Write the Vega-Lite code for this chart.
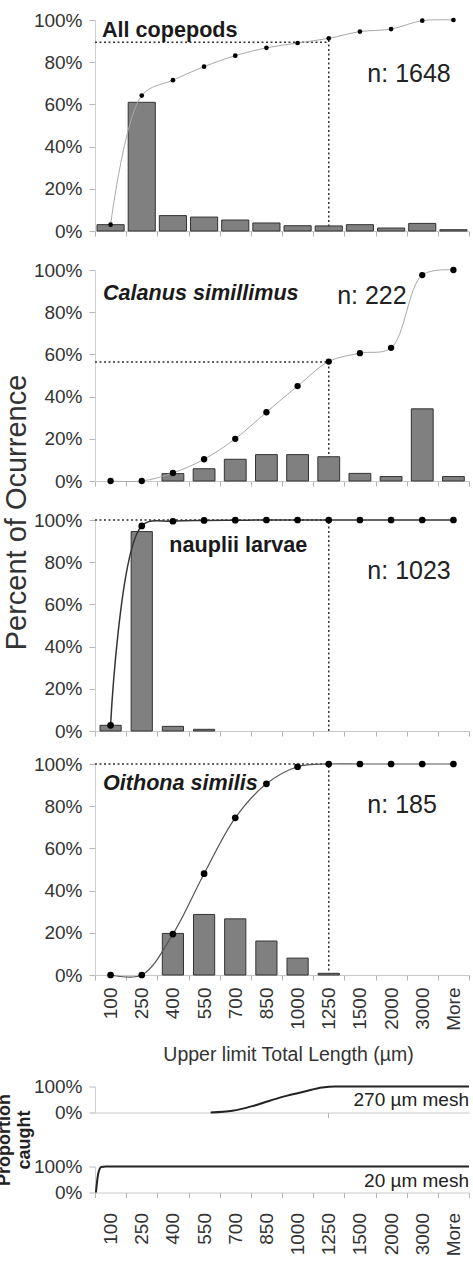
{
  "$schema": "https://vega.github.io/schema/vega-lite/v6.json",
  "background": "white",
  "padding": {"left": -5, "top": 11, "right": 0, "bottom": 0},
  "datasets": {
    "main": [
      {"panel": "all", "size": "100", "pct": 3.0, "cum": 3.0},
      {"panel": "all", "size": "250", "pct": 61.0, "cum": 64.2},
      {"panel": "all", "size": "400", "pct": 7.3, "cum": 71.5},
      {"panel": "all", "size": "550", "pct": 6.6, "cum": 77.9},
      {"panel": "all", "size": "700", "pct": 5.2, "cum": 83.1},
      {"panel": "all", "size": "850", "pct": 3.8, "cum": 86.8},
      {"panel": "all", "size": "1000", "pct": 2.5, "cum": 89.1},
      {"panel": "all", "size": "1250", "pct": 2.4, "cum": 91.3},
      {"panel": "all", "size": "1500", "pct": 3.0, "cum": 94.5},
      {"panel": "all", "size": "2000", "pct": 1.4, "cum": 95.7},
      {"panel": "all", "size": "3000", "pct": 3.6, "cum": 99.7},
      {"panel": "all", "size": "More", "pct": 0.6, "cum": 100},
      {"panel": "cal", "size": "100", "pct": 0, "cum": 0},
      {"panel": "cal", "size": "250", "pct": 0, "cum": 0},
      {"panel": "cal", "size": "400", "pct": 3.5, "cum": 3.8},
      {"panel": "cal", "size": "550", "pct": 5.8, "cum": 10.3},
      {"panel": "cal", "size": "700", "pct": 10.3, "cum": 20.0},
      {"panel": "cal", "size": "850", "pct": 12.5, "cum": 32.6},
      {"panel": "cal", "size": "1000", "pct": 12.5, "cum": 45.0},
      {"panel": "cal", "size": "1250", "pct": 11.5, "cum": 56.6},
      {"panel": "cal", "size": "1500", "pct": 3.6, "cum": 60.6},
      {"panel": "cal", "size": "2000", "pct": 2.1, "cum": 63.1},
      {"panel": "cal", "size": "3000", "pct": 34.2, "cum": 97.6},
      {"panel": "cal", "size": "More", "pct": 2.1, "cum": 100},
      {"panel": "nau", "size": "100", "pct": 2.7, "cum": 2.7},
      {"panel": "nau", "size": "250", "pct": 94.5, "cum": 97.2},
      {"panel": "nau", "size": "400", "pct": 2.2, "cum": 99.4},
      {"panel": "nau", "size": "550", "pct": 0.8, "cum": 99.8},
      {"panel": "nau", "size": "700", "pct": 0, "cum": 99.9},
      {"panel": "nau", "size": "850", "pct": 0, "cum": 100},
      {"panel": "nau", "size": "1000", "pct": 0, "cum": 100},
      {"panel": "nau", "size": "1250", "pct": 0, "cum": 100},
      {"panel": "nau", "size": "1500", "pct": 0, "cum": 100},
      {"panel": "nau", "size": "2000", "pct": 0, "cum": 100},
      {"panel": "nau", "size": "3000", "pct": 0, "cum": 100},
      {"panel": "nau", "size": "More", "pct": 0, "cum": 100},
      {"panel": "oit", "size": "100", "pct": 0, "cum": 0},
      {"panel": "oit", "size": "250", "pct": 0, "cum": 0},
      {"panel": "oit", "size": "400", "pct": 19.7, "cum": 19.4},
      {"panel": "oit", "size": "550", "pct": 28.7, "cum": 48.0},
      {"panel": "oit", "size": "700", "pct": 26.6, "cum": 74.5},
      {"panel": "oit", "size": "850", "pct": 16.1, "cum": 90.6},
      {"panel": "oit", "size": "1000", "pct": 8.0, "cum": 98.7},
      {"panel": "oit", "size": "1250", "pct": 0.8, "cum": 100},
      {"panel": "oit", "size": "1500", "pct": 0, "cum": 100},
      {"panel": "oit", "size": "2000", "pct": 0, "cum": 100},
      {"panel": "oit", "size": "3000", "pct": 0, "cum": 100},
      {"panel": "oit", "size": "More", "pct": 0, "cum": 100}
    ],
    "mesh": [
      {"mesh": "270", "position": 3.71, "caught": 0},
      {"mesh": "270", "position": 4.41, "caught": 6.5},
      {"mesh": "270", "position": 5.15, "caught": 28},
      {"mesh": "270", "position": 6.01, "caught": 60},
      {"mesh": "270", "position": 6.76, "caught": 82},
      {"mesh": "270", "position": 7.29, "caught": 96},
      {"mesh": "270", "position": 7.7, "caught": 100},
      {"mesh": "270", "position": 12, "caught": 100},
      {"mesh": "20", "position": 0.03, "caught": 0},
      {"mesh": "20", "position": 0.1, "caught": 70},
      {"mesh": "20", "position": 0.2, "caught": 98},
      {"mesh": "20", "position": 0.35, "caught": 100},
      {"mesh": "20", "position": 12, "caught": 100}
    ]
  },
  "resolve": {"scale": {"x": "independent", "y": "independent"}},
  "spacing": 14,
  "vconcat": [
    {
      "bounds": "flush",
      "spacing": 39,
      "resolve": {"scale": {"x": "independent", "y": "independent"}},
      "vconcat": [
        {
          "width": 374, "height": 211,
          "layer": [
            {"data": {"values": [{}]}, "mark": {"type": "rule", "strokeDash": [2, 2.5], "strokeWidth": 1.5, "color": "#333"},
             "encoding": {"x": {"datum": "100", "type": "nominal", "bandPosition": 0, "scale": {"domain": ["100","250","400","550","700","850","1000","1250","1500","2000","3000","More"], "paddingInner": 0, "paddingOuter": 0}}, "x2": {"datum": "1250", "bandPosition": 0.5}, "y": {"datum": 89.5, "type": "quantitative", "scale": {"domain": [0, 100], "nice": false}}}},
            {"data": {"values": [{}]}, "mark": {"type": "rule", "strokeDash": [2, 2.5], "strokeWidth": 1.5, "color": "#333"},
             "encoding": {"x": {"datum": "1250", "type": "nominal", "bandPosition": 0.5}, "y": {"datum": 0, "type": "quantitative"}, "y2": {"datum": 91.3}}},
            {"data": {"name": "main"}, "transform": [{"filter": "datum.panel === 'all'"}],
             "layer": [
               {"transform": [{"filter": "datum.pct > 0"}],
                "mark": {"type": "bar", "width": {"band": 0.87}, "fill": "#808080", "stroke": "#333", "strokeWidth": 1},
                "encoding": {
                  "x": {"field": "size", "type": "nominal", "sort": null, "scale": {"domain": ["100","250","400","550","700","850","1000","1250","1500","2000","3000","More"], "paddingInner": 0, "paddingOuter": 0},
                        "axis": {"title": null, "labels": false, "tickBand": "extent", "tickSize": 5, "domainColor": "#c8c8c8", "tickColor": "#b4b4b4"}},
                  "y": {"field": "pct", "type": "quantitative", "scale": {"domain": [0, 100], "nice": false},
                        "axis": {"title": null, "values": [0, 20, 40, 60, 80, 100], "labelExpr": "datum.value + '%'", "tickSize": 6, "labelPadding": 7, "domainColor": "#d0d0d0", "tickColor": "#b4b4b4", "labelOverlap": false}}
                }},
               {"mark": {"type": "line", "interpolate": "catmull-rom", "stroke": "#a8a8a8", "strokeWidth": 1},
                "encoding": {"x": {"field": "size", "type": "nominal", "sort": null}, "y": {"field": "cum", "type": "quantitative"}}},
               {"mark": {"type": "point", "filled": true, "color": "#000", "opacity": 1, "size": 22},
                "encoding": {"x": {"field": "size", "type": "nominal", "sort": null}, "y": {"field": "cum", "type": "quantitative"}}}
             ]},
            {"data": {"values": [{"t": "All copepods"}]}, "mark": {"type": "text", "align": "left", "baseline": "middle", "dx": 7, "fontSize": 21.6, "fontWeight": "bold", "font": "Liberation Sans", "color": "#1a1a1a"},
             "encoding": {"x": {"datum": "100", "type": "nominal", "bandPosition": 0}, "y": {"datum": 94.8, "type": "quantitative"}, "text": {"field": "t"}}},
            {"data": {"values": [{"t": "n: 1648"}]}, "mark": {"type": "text", "align": "left", "baseline": "middle", "dx": 23, "fontSize": 25, "font": "Liberation Sans", "color": "#222"},
             "encoding": {"x": {"datum": "1500", "type": "nominal", "bandPosition": 0}, "y": {"datum": 74.4, "type": "quantitative"}, "text": {"field": "t"}}}
          ]
        },
        {
          "width": 374, "height": 211,
          "layer": [
            {"data": {"values": [{}]}, "mark": {"type": "rule", "strokeDash": [2, 2.5], "strokeWidth": 1.5, "color": "#333"},
             "encoding": {"x": {"datum": "100", "type": "nominal", "bandPosition": 0, "scale": {"domain": ["100","250","400","550","700","850","1000","1250","1500","2000","3000","More"], "paddingInner": 0, "paddingOuter": 0}}, "x2": {"datum": "1250", "bandPosition": 0.5}, "y": {"datum": 56.4, "type": "quantitative", "scale": {"domain": [0, 100], "nice": false}}}},
            {"data": {"values": [{}]}, "mark": {"type": "rule", "strokeDash": [2, 2.5], "strokeWidth": 1.5, "color": "#333"},
             "encoding": {"x": {"datum": "1250", "type": "nominal", "bandPosition": 0.5}, "y": {"datum": 0, "type": "quantitative"}, "y2": {"datum": 56.6}}},
            {"data": {"name": "main"}, "transform": [{"filter": "datum.panel === 'cal'"}],
             "layer": [
               {"transform": [{"filter": "datum.pct > 0"}],
                "mark": {"type": "bar", "width": {"band": 0.7}, "fill": "#808080", "stroke": "#333", "strokeWidth": 1},
                "encoding": {
                  "x": {"field": "size", "type": "nominal", "sort": null, "scale": {"domain": ["100","250","400","550","700","850","1000","1250","1500","2000","3000","More"], "paddingInner": 0, "paddingOuter": 0},
                        "axis": {"title": null, "labels": false, "tickBand": "extent", "tickSize": 5, "domainColor": "#c8c8c8", "tickColor": "#b4b4b4"}},
                  "y": {"field": "pct", "type": "quantitative", "scale": {"domain": [0, 100], "nice": false},
                        "axis": {"title": null, "values": [0, 20, 40, 60, 80, 100], "labelExpr": "datum.value + '%'", "tickSize": 6, "labelPadding": 7, "domainColor": "#d0d0d0", "tickColor": "#b4b4b4", "labelOverlap": false}}
                }},
               {"mark": {"type": "line", "interpolate": "catmull-rom", "stroke": "#a8a8a8", "strokeWidth": 1},
                "encoding": {"x": {"field": "size", "type": "nominal", "sort": null}, "y": {"field": "cum", "type": "quantitative"}}},
               {"mark": {"type": "point", "filled": true, "color": "#000", "opacity": 1, "size": 40},
                "encoding": {"x": {"field": "size", "type": "nominal", "sort": null}, "y": {"field": "cum", "type": "quantitative"}}}
             ]},
            {"data": {"values": [{"t": "Calanus simillimus"}]}, "mark": {"type": "text", "align": "left", "baseline": "middle", "dx": 8, "fontSize": 21.6, "fontWeight": "bold", "fontStyle": "italic", "font": "Liberation Sans", "color": "#1a1a1a"},
             "encoding": {"x": {"datum": "100", "type": "nominal", "bandPosition": 0}, "y": {"datum": 88.6, "type": "quantitative"}, "text": {"field": "t"}}},
            {"data": {"values": [{"t": "n: 222"}]}, "mark": {"type": "text", "align": "left", "baseline": "middle", "dx": 24, "fontSize": 25, "font": "Liberation Sans", "color": "#222"},
             "encoding": {"x": {"datum": "1250", "type": "nominal", "bandPosition": 0}, "y": {"datum": 87.7, "type": "quantitative"}, "text": {"field": "t"}}}
          ]
        },
        {
          "width": 374, "height": 211,
          "layer": [
            {"data": {"values": [{}]}, "mark": {"type": "rule", "strokeDash": [2, 2.5], "strokeWidth": 1.5, "color": "#333"},
             "encoding": {"x": {"datum": "100", "type": "nominal", "bandPosition": 0, "scale": {"domain": ["100","250","400","550","700","850","1000","1250","1500","2000","3000","More"], "paddingInner": 0, "paddingOuter": 0}}, "x2": {"datum": "1250", "bandPosition": 0.5}, "y": {"datum": 100, "type": "quantitative", "scale": {"domain": [0, 100], "nice": false}}}},
            {"data": {"values": [{}]}, "mark": {"type": "rule", "strokeDash": [2, 2.5], "strokeWidth": 1.5, "color": "#333"},
             "encoding": {"x": {"datum": "1250", "type": "nominal", "bandPosition": 0.5}, "y": {"datum": 0, "type": "quantitative"}, "y2": {"datum": 100}}},
            {"data": {"name": "main"}, "transform": [{"filter": "datum.panel === 'nau'"}],
             "layer": [
               {"transform": [{"filter": "datum.pct > 0"}],
                "mark": {"type": "bar", "width": {"band": 0.68}, "fill": "#808080", "stroke": "#333", "strokeWidth": 1},
                "encoding": {
                  "x": {"field": "size", "type": "nominal", "sort": null, "scale": {"domain": ["100","250","400","550","700","850","1000","1250","1500","2000","3000","More"], "paddingInner": 0, "paddingOuter": 0},
                        "axis": {"title": null, "labels": false, "tickBand": "extent", "tickSize": 5, "domainColor": "#c8c8c8", "tickColor": "#b4b4b4"}},
                  "y": {"field": "pct", "type": "quantitative", "scale": {"domain": [0, 100], "nice": false},
                        "axis": {"title": "Percent of Ocurrence", "titleFontSize": 29, "titleFontWeight": "normal", "titleColor": "#333", "titleX": -70, "titleY": -8, "titleBaseline": "alphabetic", "titleAlign": "center", "titleAngle": 270,
                                 "values": [0, 20, 40, 60, 80, 100], "labelExpr": "datum.value + '%'", "tickSize": 6, "labelPadding": 7, "domainColor": "#d0d0d0", "tickColor": "#b4b4b4", "labelOverlap": false}}
                }},
               {"mark": {"type": "line", "interpolate": "catmull-rom", "stroke": "#333", "strokeWidth": 1.5},
                "encoding": {"x": {"field": "size", "type": "nominal", "sort": null}, "y": {"field": "cum", "type": "quantitative"}}},
               {"mark": {"type": "point", "filled": true, "color": "#000", "opacity": 1, "size": 45},
                "encoding": {"x": {"field": "size", "type": "nominal", "sort": null}, "y": {"field": "cum", "type": "quantitative"}}}
             ]},
            {"data": {"values": [{"t": "nauplii larvae"}]}, "mark": {"type": "text", "align": "left", "baseline": "middle", "dx": 12, "fontSize": 21.6, "fontWeight": "bold", "font": "Liberation Sans", "color": "#1a1a1a"},
             "encoding": {"x": {"datum": "400", "type": "nominal", "bandPosition": 0}, "y": {"datum": 87.7, "type": "quantitative"}, "text": {"field": "t"}}},
            {"data": {"values": [{"t": "n: 1023"}]}, "mark": {"type": "text", "align": "left", "baseline": "middle", "dx": 23, "fontSize": 25, "font": "Liberation Sans", "color": "#222"},
             "encoding": {"x": {"datum": "1500", "type": "nominal", "bandPosition": 0}, "y": {"datum": 75.8, "type": "quantitative"}, "text": {"field": "t"}}}
          ]
        }
      ]
    },
    {
      "spacing": 13.5,
      "resolve": {"scale": {"x": "independent", "y": "independent"}},
      "vconcat": [
        {
          "width": 374, "height": 211,
          "layer": [
            {"data": {"values": [{}]}, "mark": {"type": "rule", "strokeDash": [2, 2.5], "strokeWidth": 1.5, "color": "#333"},
             "encoding": {"x": {"datum": "100", "type": "nominal", "bandPosition": 0, "scale": {"domain": ["100","250","400","550","700","850","1000","1250","1500","2000","3000","More"], "paddingInner": 0, "paddingOuter": 0}}, "x2": {"datum": "1250", "bandPosition": 0.5}, "y": {"datum": 100, "type": "quantitative", "scale": {"domain": [0, 100], "nice": false}}}},
            {"data": {"values": [{}]}, "mark": {"type": "rule", "strokeDash": [2, 2.5], "strokeWidth": 1.5, "color": "#333"},
             "encoding": {"x": {"datum": "1250", "type": "nominal", "bandPosition": 0.5}, "y": {"datum": 0, "type": "quantitative"}, "y2": {"datum": 100}}},
            {"data": {"name": "main"}, "transform": [{"filter": "datum.panel === 'oit'"}],
             "layer": [
               {"transform": [{"filter": "datum.pct > 0"}],
                "mark": {"type": "bar", "width": {"band": 0.68}, "fill": "#808080", "stroke": "#333", "strokeWidth": 1},
                "encoding": {
                  "x": {"field": "size", "type": "nominal", "sort": null, "scale": {"domain": ["100","250","400","550","700","850","1000","1250","1500","2000","3000","More"], "paddingInner": 0, "paddingOuter": 0},
                        "axis": {"title": "Upper limit Total Length (µm)", "titleFontSize": 19.5, "titleFontWeight": "normal", "titleColor": "#333", "titlePadding": 15, "titleX": 193,
                                 "labelAngle": -90, "labelPadding": 7, "labelOverlap": false, "tickBand": "extent", "tickSize": 5, "domainColor": "#c8c8c8", "tickColor": "#b4b4b4"}},
                  "y": {"field": "pct", "type": "quantitative", "scale": {"domain": [0, 100], "nice": false},
                        "axis": {"title": null, "values": [0, 20, 40, 60, 80, 100], "labelExpr": "datum.value + '%'", "tickSize": 6, "labelPadding": 7, "domainColor": "#d0d0d0", "tickColor": "#b4b4b4", "labelOverlap": false}}
                }},
               {"mark": {"type": "line", "interpolate": "catmull-rom", "stroke": "#555", "strokeWidth": 1.2},
                "encoding": {"x": {"field": "size", "type": "nominal", "sort": null}, "y": {"field": "cum", "type": "quantitative"}}},
               {"mark": {"type": "point", "filled": true, "color": "#000", "opacity": 1, "size": 45},
                "encoding": {"x": {"field": "size", "type": "nominal", "sort": null}, "y": {"field": "cum", "type": "quantitative"}}}
             ]},
            {"data": {"values": [{"t": "Oithona similis"}]}, "mark": {"type": "text", "align": "left", "baseline": "middle", "dx": 8, "fontSize": 21.6, "fontWeight": "bold", "fontStyle": "italic", "font": "Liberation Sans", "color": "#1a1a1a"},
             "encoding": {"x": {"datum": "100", "type": "nominal", "bandPosition": 0}, "y": {"datum": 90.5, "type": "quantitative"}, "text": {"field": "t"}}},
            {"data": {"values": [{"t": "n: 185"}]}, "mark": {"type": "text", "align": "left", "baseline": "middle", "dx": 23, "fontSize": 25, "font": "Liberation Sans", "color": "#222"},
             "encoding": {"x": {"datum": "1500", "type": "nominal", "bandPosition": 0}, "y": {"datum": 80.6, "type": "quantitative"}, "text": {"field": "t"}}}
          ]
        },
        {
          "bounds": "flush",
          "spacing": 54,
          "resolve": {"scale": {"x": "independent", "y": "independent"}},
          "vconcat": [
            {
              "width": 374, "height": 26,
              "resolve": {"scale": {"x": "independent"}},
              "layer": [
                {"data": {"name": "mesh"}, "transform": [{"filter": "datum.mesh === '270'"}],
                 "mark": {"type": "line", "interpolate": "monotone", "stroke": "#222", "strokeWidth": 2},
                 "encoding": {
                   "x": {"field": "position", "type": "quantitative", "scale": {"domain": [0, 12], "nice": false, "zero": true}, "axis": null},
                   "y": {"field": "caught", "type": "quantitative", "scale": {"domain": [0, 100], "nice": false},
                         "axis": {"title": null, "values": [0, 100], "labelExpr": "datum.value + '%'", "tickSize": 6, "labelPadding": 7, "domainColor": "#d0d0d0", "tickColor": "#b4b4b4", "labelOverlap": false}}
                 }},
                {"data": {"values": [{"t": "270 µm mesh"}]}, "mark": {"type": "text", "align": "right", "baseline": "middle", "fontSize": 19, "font": "Liberation Sans", "color": "#222"},
                 "encoding": {
                   "x": {"datum": "More", "type": "nominal", "bandPosition": 1, "scale": {"domain": ["100","250","400","550","700","850","1000","1250","1500","2000","3000","More"], "paddingInner": 0, "paddingOuter": 0},
                         "axis": {"orient": "bottom", "title": null, "labels": false, "values": ["1250"], "tickBand": "center", "tickSize": 5, "domainColor": "#c8c8c8", "tickColor": "#b4b4b4"}},
                   "y": {"datum": 50, "type": "quantitative"},
                   "text": {"field": "t"}
                 }}
              ]
            },
            {
              "width": 374, "height": 26,
              "resolve": {"scale": {"x": "independent"}},
              "layer": [
                {"data": {"name": "mesh"}, "transform": [{"filter": "datum.mesh === '20'"}],
                 "mark": {"type": "line", "interpolate": "monotone", "stroke": "#222", "strokeWidth": 2},
                 "encoding": {
                   "x": {"field": "position", "type": "quantitative", "scale": {"domain": [0, 12], "nice": false, "zero": true}, "axis": null},
                   "y": {"field": "caught", "type": "quantitative", "scale": {"domain": [0, 100], "nice": false},
                         "axis": {"title": ["Proportion", "caught"], "titleFontSize": 18, "titleFontWeight": "bold", "titleColor": "#222", "titleX": -86, "titleY": -27, "titleBaseline": "alphabetic", "titleAlign": "center", "titleAngle": 270, "titleLineHeight": 20,
                                  "values": [0, 100], "labelExpr": "datum.value + '%'", "tickSize": 6, "labelPadding": 7, "domainColor": "#d0d0d0", "tickColor": "#b4b4b4", "labelOverlap": false}}
                 }},
                {"data": {"values": [{"t": "20 µm mesh"}]}, "mark": {"type": "text", "align": "right", "baseline": "middle", "fontSize": 19, "font": "Liberation Sans", "color": "#222"},
                 "encoding": {
                   "x": {"datum": "More", "type": "nominal", "bandPosition": 1, "scale": {"domain": ["100","250","400","550","700","850","1000","1250","1500","2000","3000","More"], "paddingInner": 0, "paddingOuter": 0},
                         "axis": {"orient": "bottom", "title": "Upper limit Total Length (µm)", "titleFontSize": 19.5, "titleFontWeight": "normal", "titleColor": "#333", "titlePadding": 15, "titleX": 193,
                                  "labelAngle": -90, "labelPadding": 15, "labelOverlap": false, "tickBand": "extent", "tickSize": 5, "domainColor": "#c8c8c8", "tickColor": "#b4b4b4"}},
                   "y": {"datum": 44, "type": "quantitative"},
                   "text": {"field": "t"}
                 }}
              ]
            }
          ]
        }
      ]
    }
  ],
  "config": {
    "view": {"stroke": null},
    "axis": {"labelFont": "Liberation Sans", "labelFontSize": 19, "labelColor": "#333", "titleFont": "Liberation Sans", "grid": false},
    "text": {"font": "Liberation Sans"}
  }
}
